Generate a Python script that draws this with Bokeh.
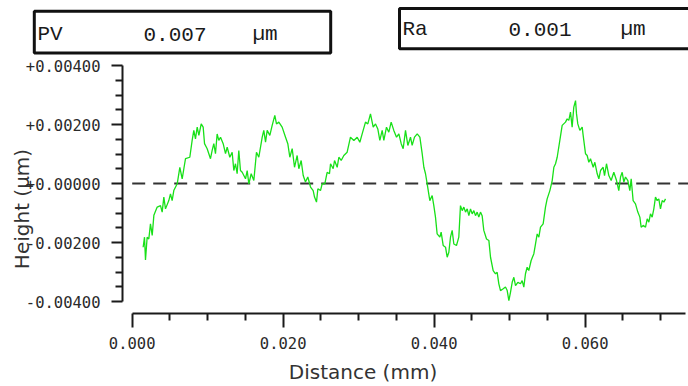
from math import pi
from bokeh.plotting import figure
from bokeh.models import LinearAxis, FixedTicker, Range1d
from bokeh.core.properties import value
from bokeh.embed import file_html
from bokeh.resources import INLINE

# ---------------- data ----------------
distance_mm = [
    0.00145, 0.00163, 0.00176, 0.00198, 0.00220, 0.00242, 0.00265, 0.00287, 0.00331, 0.00375,
    0.00397, 0.00419, 0.00441, 0.00485, 0.00507, 0.00529, 0.00551, 0.00596, 0.00631, 0.00662,
    0.00684, 0.00706, 0.00763, 0.00794, 0.00816, 0.00838, 0.00861, 0.00883, 0.00914, 0.00940,
    0.00958, 0.00993, 0.01037, 0.01059, 0.01081, 0.01103, 0.01125, 0.01147, 0.01170, 0.01205,
    0.01236, 0.01258, 0.01293, 0.01324, 0.01346, 0.01368, 0.01390, 0.01412, 0.01434, 0.01457,
    0.01501, 0.01523, 0.01545, 0.01576, 0.01611, 0.01646, 0.01677, 0.01722, 0.01743, 0.01766,
    0.01788, 0.01823, 0.01854, 0.01889, 0.01911, 0.01942, 0.01986, 0.02031, 0.02061, 0.02088,
    0.02119, 0.02150, 0.02185, 0.02207, 0.02238, 0.02265, 0.02295, 0.02326, 0.02362, 0.02397,
    0.02415, 0.02441, 0.02459, 0.02494, 0.02516, 0.02551, 0.02582, 0.02613, 0.02627, 0.02662,
    0.02680, 0.02715, 0.02737, 0.02768, 0.02803, 0.02847, 0.02891, 0.02936, 0.02980, 0.03015,
    0.03046, 0.03090, 0.03121, 0.03156, 0.03192, 0.03223, 0.03253, 0.03280, 0.03311, 0.03333,
    0.03368, 0.03399, 0.03430, 0.03465, 0.03501, 0.03532, 0.03563, 0.03589, 0.03620, 0.03651,
    0.03686, 0.03708, 0.03739, 0.03775, 0.03810, 0.03841, 0.03863, 0.03885, 0.03907, 0.03942,
    0.03973, 0.03995, 0.04017, 0.04039, 0.04075, 0.04092, 0.04119, 0.04150, 0.04172, 0.04194,
    0.04216, 0.04238, 0.04260, 0.04295, 0.04326, 0.04348, 0.04371, 0.04393, 0.04415, 0.04437,
    0.04459, 0.04481, 0.04503, 0.04525, 0.04547, 0.04569, 0.04591, 0.04613, 0.04635, 0.04657,
    0.04693, 0.04724, 0.04746, 0.04781, 0.04812, 0.04834, 0.04856, 0.04878, 0.04914, 0.04944,
    0.04967, 0.04989, 0.05011, 0.05033, 0.05055, 0.05077, 0.05108, 0.05143, 0.05165, 0.05187,
    0.05209, 0.05231, 0.05253, 0.05284, 0.05320, 0.05342, 0.05364, 0.05386, 0.05408, 0.05443,
    0.05474, 0.05496, 0.05532, 0.05563, 0.05585, 0.05607, 0.05629, 0.05664, 0.05695, 0.05739,
    0.05761, 0.05783, 0.05805, 0.05827, 0.05849, 0.05872, 0.05885, 0.05902, 0.05929, 0.05960,
    0.05973, 0.06004, 0.06026, 0.06048, 0.06070, 0.06106, 0.06128, 0.06159, 0.06181, 0.06203,
    0.06238, 0.06256, 0.06282, 0.06313, 0.06344, 0.06379, 0.06415, 0.06445, 0.06468, 0.06490,
    0.06512, 0.06534, 0.06565, 0.06591, 0.06609, 0.06635, 0.06666, 0.06697, 0.06724, 0.06741,
    0.06768, 0.06799, 0.06821, 0.06843, 0.06865, 0.06887, 0.06909, 0.06931, 0.06953, 0.06975,
    0.06997, 0.07020, 0.07042, 0.07064,
]

height_um = [
    -0.00216, -0.00182, -0.00259, -0.00182, -0.00188, -0.00137, -0.00176, -0.00108, -0.00080, -0.00075,
    -0.00097, -0.00046, -0.00086, -0.00058, -0.00035, -0.00058, -0.00024, -0.00001, 0.00055, 0.00016,
    0.00050, 0.00084, 0.00089, 0.00146, 0.00180, 0.00151, 0.00191, 0.00163, 0.00202, 0.00191,
    0.00135, 0.00118, 0.00084, 0.00112, 0.00135, 0.00101, 0.00168, 0.00146, 0.00157, 0.00135,
    0.00101, 0.00123, 0.00089, 0.00106, 0.00044, 0.00067, 0.00033, 0.00112, 0.00044, 0.00038,
    0.00016, 0.00044, -0.00001, 0.00033, 0.00010, 0.00106, 0.00089, 0.00157, 0.00180, 0.00140,
    0.00180, 0.00163, 0.00197, 0.00231, 0.00202, 0.00208, 0.00191, 0.00157, 0.00135, 0.00089,
    0.00118, 0.00055, 0.00095, 0.00050, 0.00078, 0.00027, 0.00005, 0.00022, -0.00012, -0.00024,
    -0.00046, -0.00063, -0.00018, -0.00024, -0.00001, -0.00001, 0.00038, 0.00033, 0.00067, 0.00050,
    0.00078, 0.00055, 0.00089, 0.00078, 0.00095, 0.00106, 0.00157, 0.00146, 0.00157, 0.00140,
    0.00168, 0.00208, 0.00202, 0.00236, 0.00191, 0.00202, 0.00185, 0.00146, 0.00180, 0.00146,
    0.00191, 0.00174, 0.00208, 0.00180, 0.00157, 0.00168, 0.00135, 0.00118, 0.00180, 0.00129,
    0.00157, 0.00129, 0.00157, 0.00168, 0.00157, 0.00101, 0.00055, 0.00033, -0.00001, -0.00058,
    -0.00041, -0.00075, -0.00114, -0.00171, -0.00182, -0.00165, -0.00210, -0.00216, -0.00250, -0.00233,
    -0.00182, -0.00159, -0.00205, -0.00210, -0.00182, -0.00075, -0.00092, -0.00080, -0.00097, -0.00086,
    -0.00109, -0.00086, -0.00103, -0.00092, -0.00109, -0.00097, -0.00114, -0.00097, -0.00109, -0.00159,
    -0.00188, -0.00193, -0.00250, -0.00295, -0.00306, -0.00301, -0.00340, -0.00363, -0.00357, -0.00351,
    -0.00363, -0.00397, -0.00368, -0.00335, -0.00318, -0.00346, -0.00335, -0.00340, -0.00329, -0.00351,
    -0.00306, -0.00284, -0.00295, -0.00261, -0.00238, -0.00205, -0.00171, -0.00182, -0.00148, -0.00137,
    -0.00080, -0.00052, -0.00024, 0.00010, 0.00055, 0.00067, 0.00089, 0.00146, 0.00197, 0.00208,
    0.00219, 0.00214, 0.00242, 0.00191, 0.00259, 0.00281, 0.00236, 0.00202, 0.00180, 0.00191,
    0.00163, 0.00101, 0.00095, 0.00072, 0.00084, 0.00055, 0.00072, 0.00033, 0.00016, 0.00044,
    0.00055, 0.00027, 0.00067, 0.00027, 0.00010, 0.00038, 0.00010, -0.00024, 0.00022, 0.00038,
    0.00005, 0.00022, 0.00010, -0.00024, 0.00016, -0.00058, -0.00069, -0.00097, -0.00114, -0.00148,
    -0.00142, -0.00148, -0.00120, -0.00131, -0.00103, -0.00114, -0.00086, -0.00046, -0.00058, -0.00052,
    -0.00086, -0.00058, -0.00063, -0.00052,
]

x_ticks = [0.0, 0.02, 0.04, 0.06]
x_tick_labels = ["0.000", "0.020", "0.040", "0.060"]
x_minor_ticks = [0.005, 0.010, 0.015, 0.025, 0.030, 0.035, 0.045, 0.050, 0.055, 0.065, 0.070]
x_axis_end = 0.0733

y_ticks = [-0.004, -0.002, 0.0, 0.002, 0.004]
y_tick_labels = ["-0.00400", "-0.00200", "+0.00000", "+0.00200", "+0.00400"]
y_minor_ticks = [-0.0035, -0.003, -0.0025, -0.0015, -0.001, -0.0005,
                 0.0005, 0.001, 0.0015, 0.0025, 0.003, 0.0035]

stat_names = ["PV", "Ra"]
stat_values = ["0.007", "0.001"]
stat_units = ["µm", "µm"]

x_label = "Distance (mm)"
y_label = "Height (µm)"

# ---------------- layout (pixel calibration) ----------------
W, H = 688, 386
X0_PX, XS = 131.7, 7550.0     # px of x=0, px per mm
Y0_PX, YS = 183.0, 29500.0    # px of y=0, px per µm


def px2x(px):
    return (px - X0_PX) / XS


def px2y(py):
    return (Y0_PX - py) / YS


p = figure(width=W, height=H, output_backend="svg", toolbar_location=None,
           x_range=Range1d(px2x(0), px2x(W)), y_range=Range1d(px2y(H), px2y(0)),
           x_axis_type=None, y_axis_type=None,
           min_border=0, min_border_left=0, min_border_right=0,
           min_border_top=0, min_border_bottom=0)
p.outline_line_color = None
p.background_fill_color = "white"
p.border_fill_color = "white"

axis_color = "#1a1a1a"
label_color = "#2a2a2a"

yax = LinearAxis(fixed_location=px2x(122), bounds=(y_ticks[0], y_ticks[-1]),
                 ticker=FixedTicker(ticks=y_ticks, minor_ticks=y_minor_ticks),
                 major_label_overrides=dict(zip(y_ticks, y_tick_labels)))
xax = LinearAxis(fixed_location=px2y(313), bounds=(0.0, x_axis_end),
                 ticker=FixedTicker(ticks=x_ticks, minor_ticks=x_minor_ticks),
                 major_label_overrides=dict(zip(x_ticks, x_tick_labels)))
for ax in (xax, yax):
    ax.axis_line_color = axis_color
    ax.axis_line_width = 2
    ax.major_tick_line_color = axis_color
    ax.minor_tick_line_color = axis_color
    ax.major_tick_line_width = 2
    ax.minor_tick_line_width = 2
    ax.major_tick_in = 0
    ax.minor_tick_in = 0
    ax.minor_tick_out = 7
    ax.major_label_text_font = "DejaVu Sans Mono"
    ax.major_label_text_font_size = "15.5px"
    ax.major_label_text_color = label_color
yax.major_tick_out = 11
yax.major_label_standoff = 11
xax.major_tick_out = 14
xax.major_label_standoff = 9
p.add_layout(yax, "left")
p.add_layout(xax, "below")

# zero reference line
p.segment(x0=[0.0], y0=[0.0], x1=[px2x(W)], y1=[0.0],
          line_color="#333333", line_width=2, line_dash="13 8")

# profile
p.line(distance_mm, height_um, line_color="#18e018", line_width=1.3)

# header boxes
p.quad(left=[px2x(33.8), px2x(399)], right=[px2x(330.2), px2x(705)],
       top=[px2y(10.8), px2y(8.0)], bottom=[px2y(52.5), px2y(48.3)],
       fill_color="white", line_color="#111111", line_width=3)

hx = [px2x(37), px2x(143), px2x(252), px2x(402), px2x(508), px2x(620)]
hy = [px2y(33.5)] * 3 + [px2y(28.5)] * 3
htxt = [stat_names[0], stat_values[0], stat_units[0],
        stat_names[1], stat_values[1], stat_units[1]]
p.text(x=hx, y=hy, text=htxt, text_font=value("Liberation Mono"),
       text_font_size=value("21px"), text_color="#1a1a1a",
       text_align="left", text_baseline="middle")

# axis titles
p.text(x=[px2x(362.5)], y=[px2y(371)], text=[x_label],
       text_font=value("DejaVu Sans"), text_font_size=value("20px"),
       text_color="#333333", text_align="center", text_baseline="middle")
p.text(x=[px2x(21)], y=[px2y(208.5)], text=[y_label], angle=pi / 2,
       text_font=value("DejaVu Sans"), text_font_size=value("20px"),
       text_color="#333333", text_align="center", text_baseline="middle")

open("out.html", "w").write(file_html(p, INLINE))
